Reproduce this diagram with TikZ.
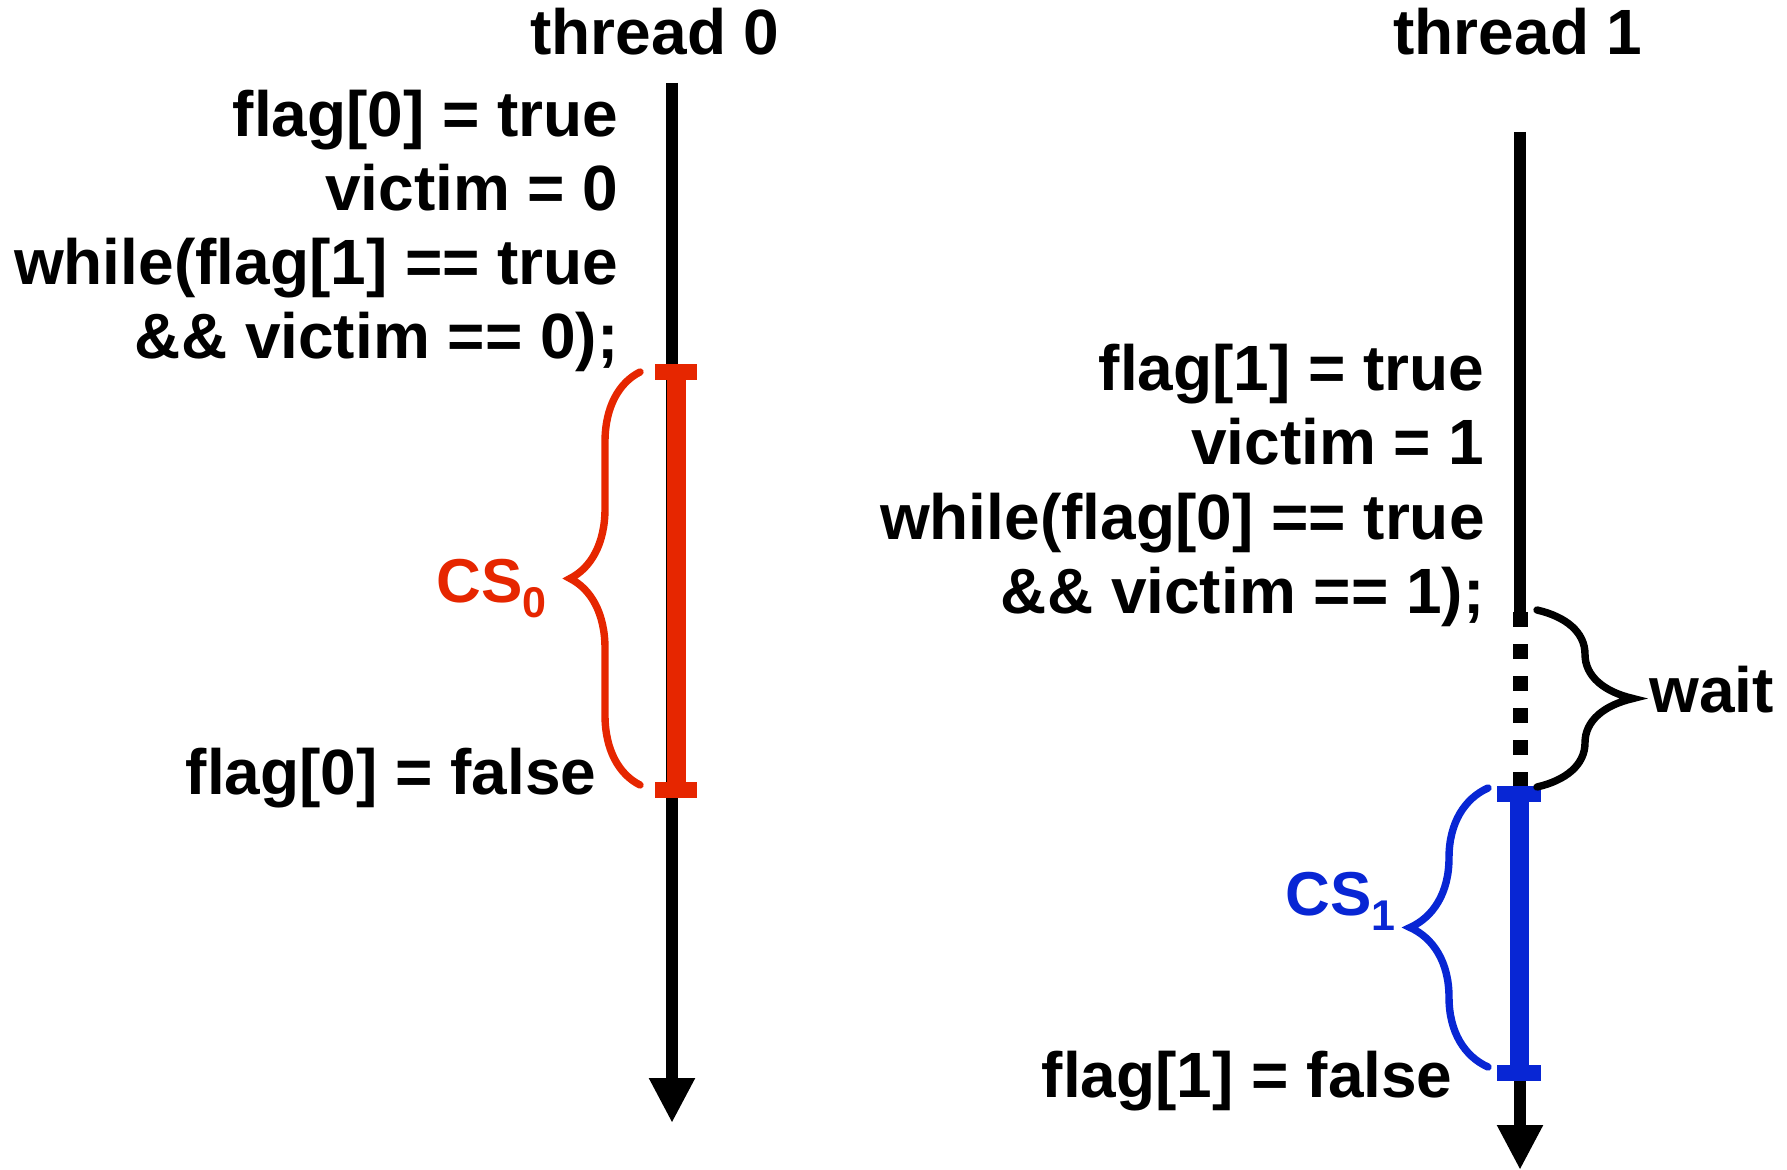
\documentclass[tikz,border=0pt]{standalone}
\usepackage{fontspec}
\setmainfont{Liberation Sans}
\usepackage{tikz}
\usetikzlibrary{arrows.meta,decorations.pathreplacing}
\definecolor{csred}{RGB}{230,38,0}
\definecolor{csblue}{RGB}{8,38,212}
\newcommand\cssub[1]{\raisebox{-7.5pt}{\fontsize{21.5}{21.5}\selectfont #1}}

\begin{document}
\begin{tikzpicture}[x=0.5pt,y=-0.5pt,
    code/.style={font=\fontsize{32}{38}\selectfont\bfseries,inner sep=0pt,anchor=base east},
    timeline/.style={line width=6pt,-{Triangle[length=22.5pt,width=21.5pt]}},
    csbar/.style={line width=9.5pt},
    cstick/.style={line width=8pt},
    csbrace/.style={decorate,decoration={brace,amplitude=#1},line width=3.7pt,line cap=round},
    cslabel/.style={font=\fontsize{31}{37}\selectfont\bfseries,inner sep=0pt,anchor=base west}]
  \useasboundingbox (0,0) rectangle (1787,1170);
  % thread 0
  \node[code,anchor=base] (th0) at (655,55) {thread 0};
  \coordinate (t0top) at (672,83);
  \coordinate (t0end) at (672,1123);
  \coordinate (cs0in) at (676,372);
  \coordinate (cs0out) at (676,790);
  \draw[timeline] (t0top) -- (t0end);
  \draw[csbar,csred] (cs0in) -- (cs0out);
  \draw[cstick,csred] ([xshift=-10.5pt]cs0in) -- ([xshift=10.5pt]cs0in);
  \draw[cstick,csred] ([xshift=-10.5pt]cs0out) -- ([xshift=10.5pt]cs0out);
  \node[code] (f0t) at (619,137) {flag[0] = true};
  \node[code] (v0) at (619,211) {victim = 0};
  \node[code] (w0) at (619,285) {while(flag[1] == true};
  \node[code] (w0b) at (619,359) {\&\& victim == 0);};
  \node[code] (f0f) at (597,794) {flag[0] = false};
  \draw[csbrace=35pt,csred] (640,785) -- (640,372);
  \node[cslabel,text=csred] (cs0) at (436,602) {CS\cssub{0}};
  % thread 1
  \node[code,anchor=base] (th1) at (1518,55) {thread 1};
  \coordinate (t1top) at (1520,132);
  \coordinate (t1wait) at (1520,612);
  \coordinate (t1go) at (1520,787);
  \coordinate (t1end) at (1520,1170);
  \coordinate (cs1in) at (1519,794);
  \coordinate (cs1out) at (1519,1073);
  \draw[line width=6pt] (t1top) -- (t1wait);
  \draw[line width=7.5pt,dash pattern=on 7.5pt off 8.5pt] (t1wait) -- (t1go);
  \draw[timeline] (t1go) -- (t1end);
  \draw[csbar,csblue] (cs1in) -- (cs1out);
  \draw[cstick,csblue] ([xshift=-11pt]cs1in) -- ([xshift=11pt]cs1in);
  \draw[cstick,csblue] ([xshift=-11pt]cs1out) -- ([xshift=11pt]cs1out);
  \node[code] (f1t) at (1485,391) {flag[1] = true};
  \node[code] (v1) at (1485,465) {victim = 1};
  \node[code] (w1) at (1485,539) {while(flag[0] == true};
  \node[code] (w1b) at (1485,613) {\&\& victim == 1);};
  \node[code] (f1f) at (1453,1097) {flag[1] = false};
  \draw[csbrace=48pt] (1537,610) -- (1537,787);
  \node[code,anchor=base west] (wt) at (1649,712) {wait};
  \draw[csbrace=39pt,csblue] (1488,1067) -- (1488,788);
  \node[cslabel,text=csblue] (cs1) at (1285,915) {CS\cssub{1}};
\end{tikzpicture}
\end{document}
